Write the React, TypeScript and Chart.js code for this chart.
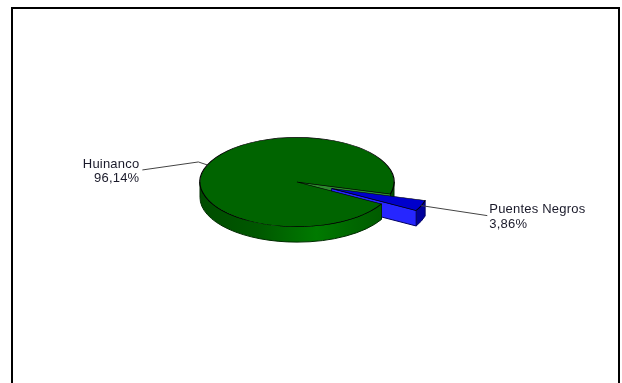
import React, { useEffect, useRef } from "react";
import { Chart, registerables } from "chart.js";

Chart.register(...registerables);

const labels = ["Puentes Negros", "Huinanco"];
const values = [3.86, 96.14];
const valueLabels = ["3,86%", "96,14%"];
const topColors = ["#0000cc", "#006400"];
const cutColors = ["#2626ff", "#2f8a2f"];
const rimColors = ["#00009c", "#004f00"];
const edgeColors = ["#000060", "#002a00"];

const TILT = 0.46;
const DEPTH = 15.5;
const EXPLODE = 37.5;
const START_DEG = 15.5;
const deg = Math.PI / 180;

const pieLook = {
  id: "pieLook",
  afterDatasetsUpdate(chart: any) {
    const arcs = chart.getDatasetMeta(0).data;
    const a = arcs[0];
    const mid = (a.startAngle + a.endAngle) / 2;
    a.x += Math.cos(mid) * EXPLODE;
    a.y += Math.sin(mid) * EXPLODE;
  },
  beforeDraw(chart: any) {
    const { ctx } = chart;
    ctx.save();
    ctx.strokeStyle = "#000";
    ctx.lineWidth = 2;
    ctx.strokeRect(12, 8, 607, 420);
    ctx.restore();
  },
  beforeDatasetsDraw(chart: any) {
    const { ctx, chartArea } = chart;
    const cx = (chartArea.left + chartArea.right) / 2;
    const cy = (chartArea.top + chartArea.bottom) / 2;
    const arcs = chart.getDatasetMeta(0).data;
    const py = (y: number) => cy + (y - cy) * TILT;
    const rim = (arc: any, a0: number, a1: number, fill: any, edge: string) => {
      const from = Math.max(a0, 0);
      const to = Math.min(a1, Math.PI);
      const r = arc.outerRadius;
      ctx.save();
      ctx.beginPath();
      ctx.ellipse(arc.x, py(arc.y), r, r * TILT, 0, from, to);
      ctx.ellipse(arc.x, py(arc.y) + DEPTH, r, r * TILT, 0, to, from, true);
      ctx.closePath();
      ctx.fillStyle = fill;
      ctx.strokeStyle = edge;
      ctx.lineWidth = 1;
      ctx.fill();
      ctx.stroke();
      ctx.restore();
    };
    const cut = (arc: any, a: number, fill: string, edge: string) => {
      const ex = arc.x + Math.cos(a) * arc.outerRadius;
      const ey = py(arc.y) + Math.sin(a) * arc.outerRadius * TILT;
      ctx.save();
      ctx.beginPath();
      ctx.moveTo(arc.x, py(arc.y));
      ctx.lineTo(ex, ey);
      ctx.lineTo(ex, ey + DEPTH);
      ctx.lineTo(arc.x, py(arc.y) + DEPTH);
      ctx.closePath();
      ctx.fillStyle = fill;
      ctx.strokeStyle = edge;
      ctx.lineWidth = 1;
      ctx.fill();
      ctx.stroke();
      ctx.restore();
    };
    const [blue, green] = arcs;
    const grad = ctx.createLinearGradient(green.x - green.outerRadius, 0, green.x + green.outerRadius, 0);
    grad.addColorStop(0, "#004c00");
    grad.addColorStop(0.3, "#005800");
    grad.addColorStop(0.6, "#007a00");
    grad.addColorStop(0.75, "#006a00");
    grad.addColorStop(1, "#005600");

    // rear part of the big slice, seen through the gap
    rim(green, 0, green.endAngle - 2 * Math.PI, rimColors[1], edgeColors[1]);
    cut(green, green.endAngle, cutColors[1], edgeColors[1]);
    // the exploded slice
    rim(blue, blue.startAngle, blue.endAngle, rimColors[0], edgeColors[0]);
    cut(blue, blue.endAngle, cutColors[0], edgeColors[0]);
    // front part of the big slice
    rim(green, green.startAngle, Math.PI, grad, edgeColors[1]);

    ctx.save();
    ctx.translate(cx, cy);
    ctx.scale(1, TILT);
    ctx.translate(-cx, -cy);
  },
  afterDatasetsDraw(chart: any) {
    const { ctx, chartArea } = chart;
    ctx.restore();
    const cy = (chartArea.top + chartArea.bottom) / 2;
    const arcs = chart.getDatasetMeta(0).data;
    const anchor = (arc: any) => {
      const mid = (arc.startAngle + arc.endAngle) / 2;
      return {
        x: arc.x + Math.cos(mid) * arc.outerRadius,
        y: cy + (arc.y - cy) * TILT + Math.sin(mid) * arc.outerRadius * TILT,
      };
    };
    const b = anchor(arcs[0]);
    const g = anchor(arcs[1]);
    ctx.save();
    ctx.strokeStyle = "#444";
    ctx.lineWidth = 1;
    ctx.beginPath();
    ctx.moveTo(b.x, b.y);
    ctx.lineTo(b.x + 66, b.y + 10);
    ctx.moveTo(g.x, g.y);
    ctx.lineTo(g.x - 9, g.y - 3);
    ctx.lineTo(g.x - 65, g.y + 5);
    ctx.stroke();
    ctx.fillStyle = "#1a1a2a";
    ctx.font = "13px 'Liberation Sans'";
    (ctx as any).letterSpacing = "0.2px";
    ctx.textBaseline = "middle";
    ctx.textAlign = "left";
    ctx.fillText(labels[0], b.x + 68, b.y + 3.5);
    ctx.fillText(valueLabels[0], b.x + 68, b.y + 18.5);
    ctx.textAlign = "right";
    ctx.fillText(labels[1], g.x - 68, g.y - 1);
    ctx.fillText(valueLabels[1], g.x - 68, g.y + 13);
    ctx.restore();
  },
};

export default function App() {
  const ref = useRef<HTMLCanvasElement>(null);
  useEffect(() => {
    document.body.style.margin = "0";
    const chart = new Chart(ref.current!, {
      type: "pie",
      data: {
        labels,
        datasets: [
          {
            data: values,
            backgroundColor: topColors,
            borderColor: "#000",
            borderWidth: 1.2,
            clip: false,
          } as any,
        ],
      },
      options: {
        animation: false,
        responsive: false,
        radius: 97,
        rotation: 90 + START_DEG,
        layout: { padding: { left: 0, right: 28, top: 0, bottom: 19 } },
        plugins: { legend: { display: false }, tooltip: { enabled: false }, title: { display: false } },
      } as any,
      plugins: [pieLook],
    });
    return () => chart.destroy();
  }, []);
  return (
    <div style={{ width: 622, height: 383, overflow: "hidden", background: "#fff" }}>
      <canvas ref={ref} width={622} height={383} style={{ display: "block" }} />
    </div>
  );
}
